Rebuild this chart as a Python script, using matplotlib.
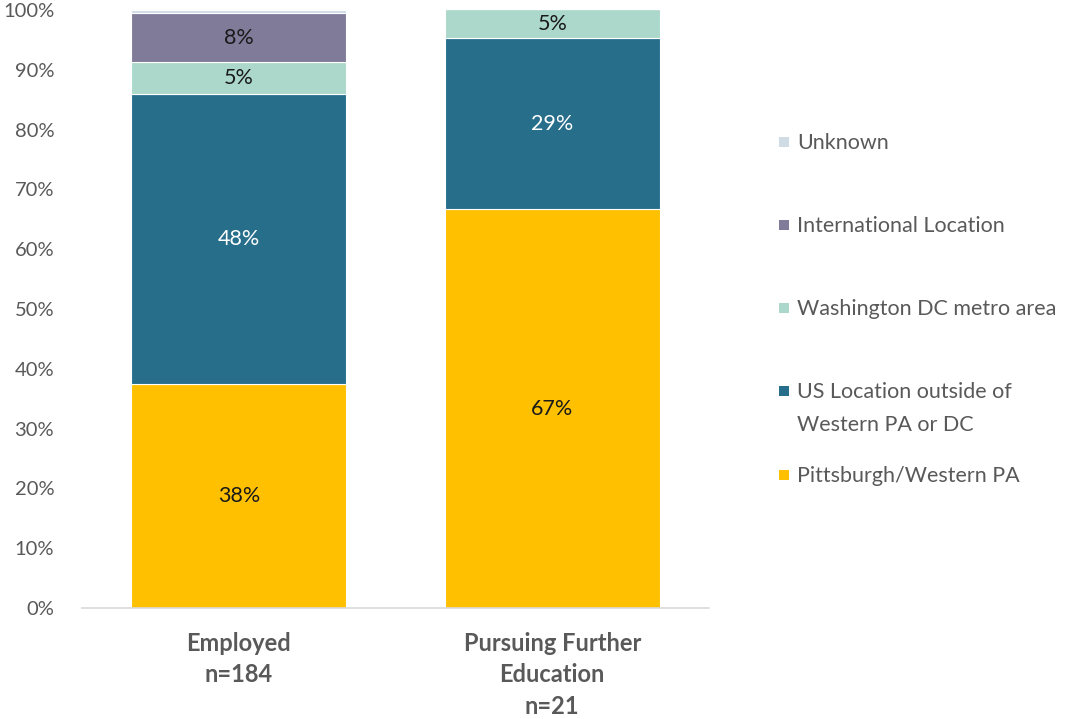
import matplotlib
matplotlib.use("Agg")
import matplotlib.pyplot as plt
from matplotlib.patches import Rectangle
import numpy as np

categories = ["Employed\nn=184", "Pursuing Further\nEducation\nn=21"]
series_names = ["Pittsburgh/Western PA", "US Location outside of\nWestern PA or DC",
                "Washington DC metro area", "International Location", "Unknown"]
pittsburgh = [37.5, 66.7]
us_other = [48.4, 28.6]
dc = [5.4, 4.8]
international = [8.2, 0.0]
unknown = [0.5, 0.0]
labels = [["38%", "67%"], ["48%", "29%"], ["5%", "5%"], ["8%", ""], ["", ""]]
colors = ["#FFC000", "#276E8B", "#ACD8CB", "#7F7B99", "#CFDCE6"]
label_colors = ["#1a1a1a", "white", "#1a1a1a", "#1a1a1a", "#1a1a1a"]

plt.rcParams['font.family'] = ['Lato', 'DejaVu Sans']
fig = plt.figure(figsize=(10.67, 7.19), dpi=100)
W, H = 1067, 719
ax = fig.add_axes([82 / W, 1 - 608 / H, (709 - 82) / W, (608 - 10) / H])

x = np.arange(len(categories))
data = [pittsburgh, us_other, dc, international, unknown]
bottom = np.zeros(len(categories))
for i, vals in enumerate(data):
    vals = np.array(vals)
    ax.bar(x, vals, bottom=bottom, width=0.686, color=colors[i],
           edgecolor="white", linewidth=0.8, zorder=2)
    for j in range(len(categories)):
        if labels[i][j]:
            ax.text(x[j], bottom[j] + vals[j] / 2, labels[i][j], ha="center", va="center",
                    fontsize=15.5, color=label_colors[i], zorder=3)
    bottom += vals

ax.set_xlim(-0.5, 1.5)
ax.set_ylim(0, 100)
ax.set_yticks(np.arange(0, 101, 10))
ax.set_yticklabels([f"{v}%" for v in range(0, 101, 10)], fontsize=14.5, color="#595959")
ax.set_xticks(x)
ax.set_xticklabels(categories, fontsize=17, fontweight="bold", color="#595959", linespacing=1.45)
for s in ["top", "right", "left"]:
    ax.spines[s].set_visible(False)
ax.spines["bottom"].set_color("#D9D9D9")
ax.spines["bottom"].set_linewidth(1.2)
ax.tick_params(axis="both", length=0)
ax.tick_params(axis="y", pad=20)
ax.tick_params(axis="x", pad=17)

# legend (manual, Excel-style)
legend_order = [4, 3, 2, 1, 0]
legend_y = [142, 225, 308, 391, 475]
for k, yy in zip(legend_order, legend_y):
    fig.patches.append(Rectangle((779 / W, 1 - (yy + 5) / H), 10 / W, 10 / H,
                                 transform=fig.transFigure, facecolor=colors[k],
                                 edgecolor="none"))
    fig.text(797 / W, 1 - (yy - 9) / H, series_names[k], ha="left", va="top",
             fontsize=15.5, color="#595959", linespacing=1.8)

fig.savefig("out.png", dpi=100)
